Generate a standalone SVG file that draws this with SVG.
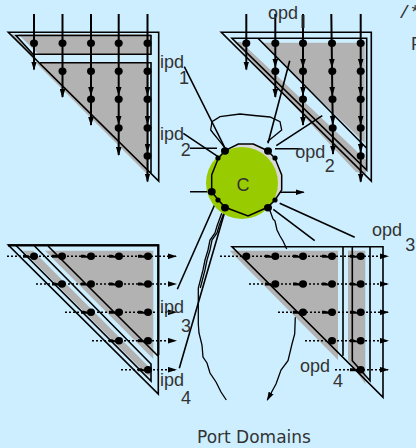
<svg xmlns="http://www.w3.org/2000/svg" width="416" height="448" viewBox="0 0 416 448">
<style>
text{font-family:"Liberation Sans",Arial,sans-serif;font-size:18px;fill:#333}
.g{fill:#b2b2b2;stroke:none}
.p{fill:none;stroke:#000;stroke-width:1.6}
.v{fill:none;stroke:#000;stroke-width:2;marker-mid:url(#a);marker-end:url(#a)}
.h{fill:none;stroke:#000;stroke-width:1.5;stroke-dasharray:2 2;marker-mid:url(#s);marker-end:url(#a)}
.c{fill:none;stroke:#000;stroke-width:1.6}
.w{fill:none;stroke:#000;stroke-width:1.3}
.e{marker-end:url(#a)}
.d{fill:#000;stroke:none}
</style>
<defs>
<marker id="a" markerUnits="userSpaceOnUse" markerWidth="9" markerHeight="6" refX="8" refY="3" orient="auto"><path d="M0 0.2L9 3L0 5.8z"/></marker>
<marker id="s" markerUnits="userSpaceOnUse" markerWidth="8" markerHeight="6" refX="7" refY="3" orient="auto"><path d="M0 1.5H3L8 3.5V4.5H0z"/></marker>
<ellipse id="r" class="d" rx="4" ry="3.7"/>
</defs>
<rect width="416" height="448" fill="#cceeff"/>
<g id="domain-ipd-top">
<path class="g" d="M18 34L151 34V54H38zM36 63H149V176z"/>
<path class="g" d="M13 34L36 58L34 60L11 34z"/>
<path class="p" d="M8.3 32.3H158.7V181zM16 35.5H151V54.3H33zM40 62.7H151V173"/>
<g id="tl-lines">
<polyline class="v" points="34,14 34,69.5"/>
<polyline class="v" points="62.5,14 62.5,97"/>
<polyline class="v" points="91,14 91,95 91,125"/>
<polyline class="v" points="118.7,14 118.7,95 118.7,124 118.7,155"/>
<polyline class="v" points="147.5,14 147.5,95 147.5,124 147.5,152 147.5,181.5"/>
</g>
<use href="#r" x="34" y="43.3"/><use href="#r" x="62.5" y="43.3"/><use href="#r" x="91" y="43.3"/><use href="#r" x="118.7" y="43.3"/><use href="#r" x="147.5" y="43.3"/>
<use href="#r" x="62.5" y="71.3"/><use href="#r" x="91" y="71.3"/><use href="#r" x="118.7" y="71.3"/><use href="#r" x="147.5" y="71.3"/>
<use href="#r" x="91" y="99.3"/><use href="#r" x="118.7" y="99.3"/><use href="#r" x="147.5" y="99.3"/>
<use href="#r" x="118.7" y="128"/><use href="#r" x="147.5" y="128"/>
<use href="#r" x="147.5" y="156"/>
</g>
<g id="domain-opd-top">
<path class="g" d="M234 42H241L366 160V174L356 172zM261.3 42.7H364.7V143z"/>
<path class="p" d="M221.3 32.3H371.3V181zM232 38.3H366.7V170zM258 38.3L366.7 148.3"/>
<g id="tr-lines">
<polyline class="v" points="246.3,14 246.3,69.5"/>
<polyline class="v" points="275.3,14 275.3,67 275.3,97"/>
<polyline class="v" points="303,14 303,67 303,95 303,125"/>
<polyline class="v" points="331.3,14 332,67 332.3,95 332.8,124 333,154"/>
<polyline class="v" points="360.7,14 360.7,67 360.7,95 360.7,124 360.7,152 360.7,181.7"/>
</g>
<path d="M303 15V28" stroke="#222" stroke-width="3"/>
<use href="#r" x="246.3" y="43.3"/><use href="#r" x="275.3" y="43.3"/><use href="#r" x="303" y="43.3"/><use href="#r" x="332" y="43.3"/><use href="#r" x="360.7" y="43.3"/>
<use href="#r" x="275.3" y="71.3"/><use href="#r" x="303" y="71.3"/><use href="#r" x="332.3" y="71.3"/><use href="#r" x="360.7" y="71.3"/>
<use href="#r" x="303" y="99.3"/><use href="#r" x="332.5" y="99.3"/><use href="#r" x="360.7" y="99.3"/>
<use href="#r" x="332.7" y="128"/><use href="#r" x="360.7" y="128"/>
<use href="#r" x="360.7" y="156"/>
</g>
<g id="domain-ipd-bottom">
<path class="g" d="M23 250.7H33L150 368V376L146 374zM45 250.7H153.3V359z"/>
<path class="p" d="M8.3 245H158.3V394zM16 245.5L151 381V364L34.5 246M48 246L158 356"/>
<path d="M8 245.3H158.3V355" fill="none" stroke="#000" stroke-width="2.2"/>
<g id="bl-lines">
<polyline class="h" points="7,256.3 30,256.3 59,256.3 88,256.3 116,256.3 145,256.3 176,256.3"/>
<polyline class="h" points="36,284 59,284 88,284 116,284 145,284 176,284"/>
<polyline class="h" points="65,312.3 88,312.3 116,312.3 145,312.3 176,312.3"/>
<polyline class="h" points="92,340.7 116,340.7 145,340.7 176,340.7"/>
<polyline class="h" points="121,369.7 145,369.7 176,369.7"/>
</g>
<use href="#r" x="34" y="256.3"/><use href="#r" x="62" y="256.3"/><use href="#r" x="91" y="256.3"/><use href="#r" x="119" y="256.3"/><use href="#r" x="148" y="256.3"/>
<use href="#r" x="62" y="284"/><use href="#r" x="91" y="284"/><use href="#r" x="119" y="284"/><use href="#r" x="148" y="284"/>
<use href="#r" x="91" y="312.3"/><use href="#r" x="119" y="312.3"/><use href="#r" x="148" y="312.3"/>
<use href="#r" x="119" y="340.7"/><use href="#r" x="148" y="340.7"/>
<use href="#r" x="148" y="369.7"/>
</g>
<g id="domain-opd-bottom">
<path class="g" d="M229.7 250.7H338V360zM348 250.7H365.3V384L348 360z"/>
<path class="p" d="M232 246.7H383V397.3zM343 246.7V355.7M352.3 246.7V360.7L370 380.7V246.7"/>
<g id="br-lines">
<polyline class="h" points="220,256.3 272,256.3 300,256.3 329,256.3 357,256.3 388,256.3"/>
<polyline class="h" points="249,284 272,284 300,284 329,284 357,284 388,284"/>
<polyline class="h" points="278,312.3 300,312.3 329,312.3 357,312.3 388,312.3"/>
<polyline class="h" points="305,340.7 357,340.7 388,340.7"/>
<polyline class="h" points="335,369.7 357,369.7 388,369.7"/>
</g>
<use href="#r" x="246.3" y="256.3"/><use href="#r" x="275.3" y="256.3"/><use href="#r" x="303" y="256.3"/><use href="#r" x="332" y="256.3"/><use href="#r" x="360.7" y="256.3"/>
<use href="#r" x="275.3" y="284"/><use href="#r" x="303" y="284"/><use href="#r" x="332" y="284"/><use href="#r" x="360.7" y="284"/>
<use href="#r" x="303" y="312.3"/><use href="#r" x="332" y="312.3"/><use href="#r" x="360.7" y="312.3"/>
<use href="#r" x="332" y="340.7"/><use href="#r" x="360.7" y="340.7"/>
<use href="#r" x="360.7" y="369.7"/>
</g>
<g id="connectors">
<path class="c" d="M184.3 66.7L225 148M183.3 133.3L218 156.7M289.7 60.7L268 143.3M322.3 115.7L276.3 145.7"/>
<path class="c e" d="M190 148.3H217M190 191.7H217M275 148.7H302M274.7 192.3H303.7"/>
<path class="c" d="M279.7 203.3L354.7 237.3M273.3 209.3L314.7 240.7M215 204L177.3 289.3M225 211L179.3 368.3"/>
<path class="w" d="M267.3 141.7L281.7 130L280 121.7L270 117L254 115.5L240 114L220 116.7L212 121.7L210.7 130L213 133L220 141.7L225 148"/>
<path class="w" d="M270 210.7L273 219L275 221L277 230L280 236L283 241L286.7 249"/>
<path class="w" d="M221.7 213.3L217 226L215 233L210 240L208 250L205 260L203 270L198.3 288L198.3 324L199 333L202 345L203 357L207 363L210 373L216 382L221 392L226.3 400"/>
<path class="w" d="M223.7 213.3L219 226L217 233L212 240L210 250L207 260L205 270L200.3 288"/>
<path class="w e" d="M295.3 317.3L294.7 334L292 344L288 360.7L281 370L276 384L267.3 400"/>
</g>
<g id="node-c">
<path d="M225 150.7L238.3 144H253.3L267.7 150.7L275 158.3L281.7 175V190L275 200L267.7 207.3L248 216L225 207.3L218.3 200L211.7 191.7V175L218.3 158.3z" fill="#d9d9d9"/>
<circle cx="242" cy="183" r="36" fill="#99cc00"/>
<path d="M225 150.7L238.3 144H253.3L267.7 150.7L275 158.3L281.7 175V190L275 200L267.7 207.3L248 216L225 207.3L218.3 200L211.7 191.7V175L218.3 158.3z" fill="none" stroke="#000" stroke-width="1.5"/>
<use href="#r" x="225" y="151"/><use href="#r" x="268" y="151"/><use href="#r" x="211.7" y="191.7"/><use href="#r" x="225" y="207.7"/><use href="#r" x="268" y="207.7"/>
<circle class="d" cx="218" cy="158" r="2.6"/><circle class="d" cx="275" cy="158" r="2.6"/><circle class="d" cx="218" cy="200" r="2.6"/><circle class="d" cx="275" cy="200" r="2.6"/>
<text x="236.5" y="191">C</text>
</g>
<g id="labels">
<text x="160" y="68">ipd</text><text x="179" y="84">1</text>
<text x="160" y="140">ipd</text><text x="180.7" y="156">2</text>
<text x="268" y="19.3">opd</text>
<text x="295.3" y="158.3">opd</text><text x="324.7" y="171.7">2</text>
<text x="372" y="235.7">opd</text><text x="405.3" y="251.3">3</text>
<text x="160" y="313.3">ipd</text><text x="181" y="332.3">3</text>
<text x="160" y="386.3">ipd</text><text x="181" y="404">4</text>
<text x="300" y="371.7">opd</text><text x="333" y="387.3">4</text>
<text x="197" y="443" style="font-family:'DejaVu Sans',sans-serif;font-size:17px">Port Domains</text>
<text x="399" y="18" style="font-family:'Liberation Mono',monospace">/*</text>
<text x="411" y="50">P</text>
</g>
</svg>
